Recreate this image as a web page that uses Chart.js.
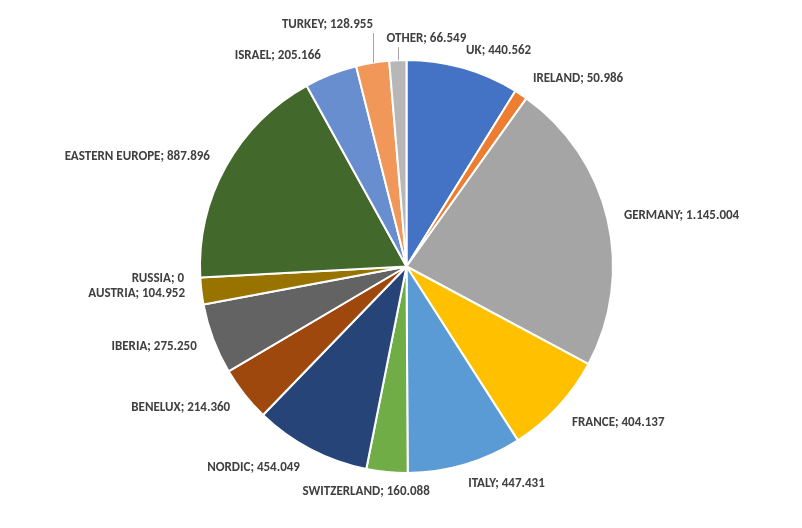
<!DOCTYPE html>
<html>
<head>
<meta charset="utf-8">
<script src="https://cdn.jsdelivr.net/npm/chart.js@4.4.0/dist/chart.umd.min.js"></script>
<style>
  html, body { margin: 0; padding: 0; background: #fff; }
  #pie { display: block; }
</style>
</head>
<body>
<canvas id="pie" width="802" height="528"></canvas>
<script>
// slices, clockwise from 12 o'clock
const regions = ['UK', 'IRELAND', 'GERMANY', 'FRANCE', 'ITALY', 'SWITZERLAND', 'NORDIC', 'BENELUX',
    'IBERIA', 'AUSTRIA', 'RUSSIA', 'EASTERN EUROPE', 'ISRAEL', 'TURKEY', 'OTHER'];
const volumes = [440562, 50986, 1145004, 404137, 447431, 160088, 454049, 214360,
    275250, 104952, 0, 887896, 205166, 128955, 66549];
const sliceColors = ['#4472C4', '#ED7D31', '#A5A5A5', '#FFC000', '#5B9BD5', '#70AD47', '#264478', '#9E480E',
    '#636363', '#997300', '#255E91', '#43682B', '#698ED0', '#F1975A', '#B7B7B7'];

// small hand nudges for the labels (dx, dy) and which ones get a leader line
const labelNudge = [[6, -1], [6.5, -1], [6.6, 3.7], [6.6, 2.5], [6, 3], [-1.7, 3], [-6.2, 2.7], [-6.3, 0],
    [-7, -2.7], [-6.5, -0.6], [-6.3, 0], [-7.2, 2.5], [-6.2, -2.1], [-21, -21], [34, -4]];
const leaderLine = [false, false, false, false, false, false, false, false,
    false, false, false, false, false, true, true];

function formatNumber(v) {
    // dots as thousands separator, as in the original
    return String(v).replace(/\B(?=(\d{3})+(?!\d))/g, '.');
}

function clamp(v) {
    return Math.max(-1, Math.min(1, v));
}

const outsideLabels = {
    id: 'outsideLabels',
    afterDatasetsDraw(chart) {
        const ctx = chart.ctx;
        const arcs = chart.getDatasetMeta(0).data;
        const h = 14;
        ctx.save();
        ctx.font = 'bold 13px Carlito, Calibri, Lato, sans-serif';
        ctx.fillStyle = '#404040';
        ctx.textAlign = 'center';
        ctx.textBaseline = 'middle';
        arcs.forEach((arc, i) => {
            const p = arc.getProps(['x', 'y', 'startAngle', 'endAngle', 'outerRadius'], true);
            const mid = (p.startAngle + p.endAngle) / 2;
            const s = Math.cos(mid);   // horizontal direction
            const c = -Math.sin(mid);  // vertical direction (up positive)
            const text = regions[i] + '; ' + formatNumber(volumes[i]);
            const w = ctx.measureText(text).width;
            const r = p.outerRadius + 10;
            let cx = p.x + r * s + (w / 2) * clamp(3 * s);
            let cy = p.y - r * c - (h / 2) * clamp(3 * c);
            cx += labelNudge[i][0];
            cy += labelNudge[i][1];

            if (leaderLine[i]) {
                const ex = p.x + p.outerRadius * s;
                const ey = p.y - p.outerRadius * c;
                ctx.strokeStyle = '#A6A6A6';
                ctx.lineWidth = 1;
                ctx.beginPath();
                ctx.moveTo(Math.round(ex) + 0.5, ey);
                ctx.lineTo(Math.round(ex) + 0.5, cy + h / 2 + 1);
                ctx.stroke();
            }
            ctx.fillText(text, cx, cy);
        });
        ctx.restore();
    }
};

new Chart(document.getElementById('pie'), {
    type: 'pie',
    data: {
        labels: regions,
        datasets: [{
            data: volumes,
            backgroundColor: sliceColors,
            borderColor: '#FFFFFF',
            borderWidth: 2
        }]
    },
    options: {
        responsive: false,
        animation: false,
        layout: {
            padding: { top: 59, bottom: 54, left: 199, right: 188 }
        },
        plugins: {
            legend: { display: false },
            tooltip: { enabled: false }
        }
    },
    plugins: [outsideLabels]
});
</script>
</body>
</html>
